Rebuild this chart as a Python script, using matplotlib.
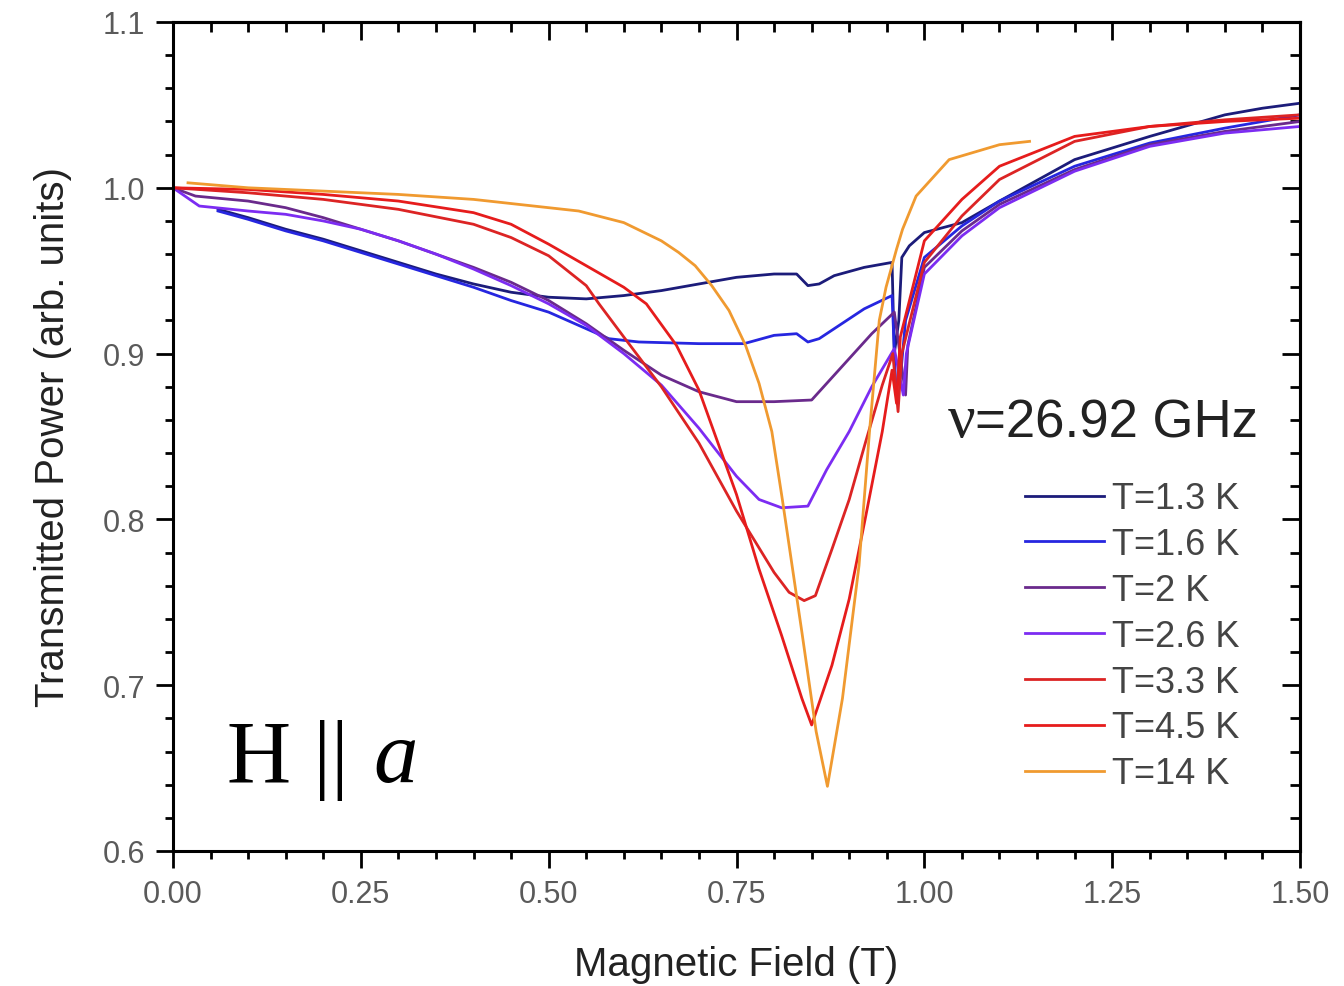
import numpy as np
import matplotlib
matplotlib.use("Agg")
import matplotlib.pyplot as plt
from matplotlib.ticker import MultipleLocator

# curves: field (T) and transmitted power (arb. units)
b_13 = [0.06, 0.10, 0.15, 0.20, 0.25, 0.30, 0.35, 0.40, 0.45, 0.50, 0.55, 0.60, 0.65, 0.70,
        0.75, 0.80, 0.83, 0.845, 0.86, 0.88, 0.92, 0.957, 0.960, 0.966, 0.970, 0.980, 1.00,
        1.05, 1.10, 1.20, 1.30, 1.40, 1.45, 1.50]
p_13 = [0.987, 0.982, 0.975, 0.969, 0.962, 0.955, 0.948, 0.942, 0.937, 0.934, 0.933, 0.935,
        0.938, 0.942, 0.946, 0.948, 0.948, 0.941, 0.942, 0.947, 0.952, 0.955, 0.900, 0.920,
        0.958, 0.965, 0.973, 0.979, 0.992, 1.017, 1.031, 1.044, 1.048, 1.051]

b_16 = [0.06, 0.10, 0.15, 0.20, 0.25, 0.30, 0.35, 0.40, 0.45, 0.50, 0.55, 0.58, 0.62, 0.70,
        0.76, 0.80, 0.83, 0.845, 0.86, 0.88, 0.92, 0.957, 0.962, 0.968, 0.975, 1.00, 1.05,
        1.10, 1.20, 1.30, 1.40, 1.50]
p_16 = [0.986, 0.981, 0.974, 0.968, 0.961, 0.954, 0.947, 0.940, 0.932, 0.925, 0.915, 0.909,
        0.907, 0.906, 0.906, 0.911, 0.912, 0.907, 0.909, 0.915, 0.927, 0.935, 0.880, 0.885,
        0.920, 0.958, 0.977, 0.992, 1.013, 1.027, 1.036, 1.044]

b_20 = [0.00, 0.03, 0.10, 0.15, 0.20, 0.25, 0.30, 0.35, 0.40, 0.45, 0.50, 0.55, 0.60, 0.65,
        0.70, 0.75, 0.80, 0.85, 0.87, 0.90, 0.93, 0.96, 0.975, 0.978, 1.00, 1.05, 1.10, 1.20,
        1.30, 1.40, 1.50]
p_20 = [1.000, 0.995, 0.992, 0.988, 0.982, 0.975, 0.968, 0.960, 0.952, 0.943, 0.932, 0.918,
        0.902, 0.887, 0.877, 0.871, 0.871, 0.872, 0.882, 0.897, 0.912, 0.925, 0.875, 0.905,
        0.952, 0.974, 0.990, 1.011, 1.026, 1.034, 1.040]

b_26 = [0.00, 0.035, 0.10, 0.15, 0.20, 0.25, 0.30, 0.35, 0.40, 0.45, 0.50, 0.55, 0.60, 0.65,
        0.70, 0.75, 0.78, 0.81, 0.845, 0.87, 0.90, 0.93, 0.96, 0.972, 0.976, 1.00, 1.05, 1.10,
        1.20, 1.30, 1.40, 1.50]
p_26 = [1.000, 0.989, 0.986, 0.984, 0.980, 0.975, 0.968, 0.960, 0.951, 0.941, 0.930, 0.917,
        0.900, 0.881, 0.855, 0.826, 0.812, 0.807, 0.808, 0.830, 0.853, 0.880, 0.903, 0.875,
        0.900, 0.948, 0.971, 0.988, 1.010, 1.025, 1.033, 1.037]

b_33 = [0.00, 0.10, 0.20, 0.30, 0.40, 0.45, 0.50, 0.55, 0.567, 0.60, 0.65, 0.70, 0.75, 0.80,
        0.82, 0.84, 0.855, 0.877, 0.90, 0.922, 0.944, 0.958, 0.965, 0.970, 1.00, 1.05, 1.10,
        1.20, 1.30, 1.40, 1.50]
p_33 = [1.000, 0.997, 0.993, 0.987, 0.978, 0.970, 0.959, 0.941, 0.930, 0.910, 0.880, 0.846,
        0.805, 0.768, 0.756, 0.751, 0.754, 0.782, 0.812, 0.847, 0.881, 0.900, 0.865, 0.900,
        0.955, 0.983, 1.005, 1.028, 1.037, 1.041, 1.044]

b_45 = [0.00, 0.10, 0.20, 0.30, 0.40, 0.45, 0.50, 0.55, 0.60, 0.63, 0.67, 0.70, 0.75, 0.78,
        0.81, 0.837, 0.85, 0.877, 0.90, 0.922, 0.944, 0.957, 0.963, 0.968, 1.00, 1.05, 1.10,
        1.20, 1.30, 1.40, 1.50]
p_45 = [1.000, 0.999, 0.996, 0.992, 0.985, 0.978, 0.966, 0.953, 0.940, 0.930, 0.905, 0.878,
        0.815, 0.770, 0.730, 0.692, 0.676, 0.712, 0.752, 0.802, 0.853, 0.890, 0.870, 0.910,
        0.968, 0.993, 1.013, 1.031, 1.037, 1.040, 1.042]

b_14 = [0.02, 0.10, 0.20, 0.30, 0.40, 0.50, 0.54, 0.60, 0.65, 0.673, 0.695, 0.717, 0.74,
        0.762, 0.78, 0.797, 0.811, 0.837, 0.856, 0.871, 0.891, 0.913, 0.927, 0.94, 0.949,
        0.963, 0.971, 0.989, 1.033, 1.10, 1.14]
p_14 = [1.003, 1.000, 0.998, 0.996, 0.993, 0.988, 0.986, 0.979, 0.968, 0.961, 0.953, 0.941,
        0.926, 0.905, 0.882, 0.853, 0.812, 0.732, 0.672, 0.639, 0.692, 0.772, 0.853, 0.920,
        0.940, 0.963, 0.975, 0.995, 1.017, 1.026, 1.028]

labels = ["T=1.3 K", "T=1.6 K", "T=2 K", "T=2.6 K", "T=3.3 K", "T=4.5 K", "T=14 K"]
colors = ["#1c1c7a", "#2626e0", "#6a2a8c", "#7c2cf2", "#dc2424", "#e61c1c", "#f09a30"]
fields = [b_13, b_16, b_20, b_26, b_33, b_45, b_14]
powers = [p_13, p_16, p_20, p_26, p_33, p_45, p_14]

plt.rcParams["font.family"] = ["Liberation Sans", "DejaVu Sans"]

fig = plt.figure(figsize=(13.44, 9.87), dpi=100)
ax = fig.add_axes([0.1287, 0.1368, 0.8386, 0.8399])

for b, p, c, lab in zip(fields, powers, colors, labels):
    ax.plot(b, p, color=c, lw=2.0, label=lab)

ax.set_xlim(0, 1.5)
ax.set_ylim(0.6, 1.1)
ax.xaxis.set_major_locator(MultipleLocator(0.25))
ax.xaxis.set_minor_locator(MultipleLocator(0.05))
ax.yaxis.set_major_locator(MultipleLocator(0.1))
ax.yaxis.set_minor_locator(MultipleLocator(0.02))
ax.xaxis.set_major_formatter(plt.FuncFormatter(lambda v, pos: f"{v:.2f}"))
ax.yaxis.set_major_formatter(plt.FuncFormatter(lambda v, pos: f"{v:.1f}"))

ax.tick_params(which="both", direction="out", width=2, colors="black",
               labelcolor="#5a5a5a", labelsize=22, pad=8)
ax.tick_params(which="major", length=12)
ax.tick_params(which="minor", length=6)
for s in ax.spines.values():
    s.set_linewidth(2.2)

# mirrored ticks pointing inward on top and right
top = ax.secondary_xaxis("top")
top.xaxis.set_major_locator(MultipleLocator(0.25))
top.xaxis.set_minor_locator(MultipleLocator(0.05))
top.tick_params(which="both", direction="in", width=2, labeltop=False)
top.tick_params(which="major", length=13)
top.tick_params(which="minor", length=7)
top.spines["top"].set_linewidth(2.2)
right = ax.secondary_yaxis("right")
right.yaxis.set_major_locator(MultipleLocator(0.1))
right.yaxis.set_minor_locator(MultipleLocator(0.02))
right.tick_params(which="both", direction="in", width=2, labelright=False)
right.tick_params(which="major", length=13)
right.tick_params(which="minor", length=7)
right.spines["right"].set_linewidth(2.2)

ax.set_xlabel("Magnetic Field (T)", fontsize=29, color="#222222", labelpad=26)
ax.set_ylabel("Transmitted Power (arb. units)", fontsize=29, color="#222222", labelpad=22)

leg = ax.legend(loc="upper left", bbox_to_anchor=(0.756, 0.446), frameon=False,
                fontsize=26, handlelength=2.2, handletextpad=0.2, labelspacing=0.3,
                borderpad=0, borderaxespad=0)
for t in leg.get_texts():
    t.set_color("#444444")

ax.text(0.712, 0.50, "=26.92 GHz", transform=ax.transAxes, fontsize=38, color="#222222",
        ha="left", va="baseline")
ax.text(0.712, 0.50, "\u03bd", transform=ax.transAxes, fontsize=44, color="#222222",
        ha="right", va="baseline", family="Liberation Serif")

ax.text(0.048, 0.085, "H || ", transform=ax.transAxes, fontsize=64, color="black",
        ha="left", va="baseline", family="Liberation Serif")
ax.text(0.178, 0.085, "a", transform=ax.transAxes, fontsize=64, color="black",
        ha="left", va="baseline", family="Liberation Serif", style="italic")

fig.savefig("out.png", dpi=100)
